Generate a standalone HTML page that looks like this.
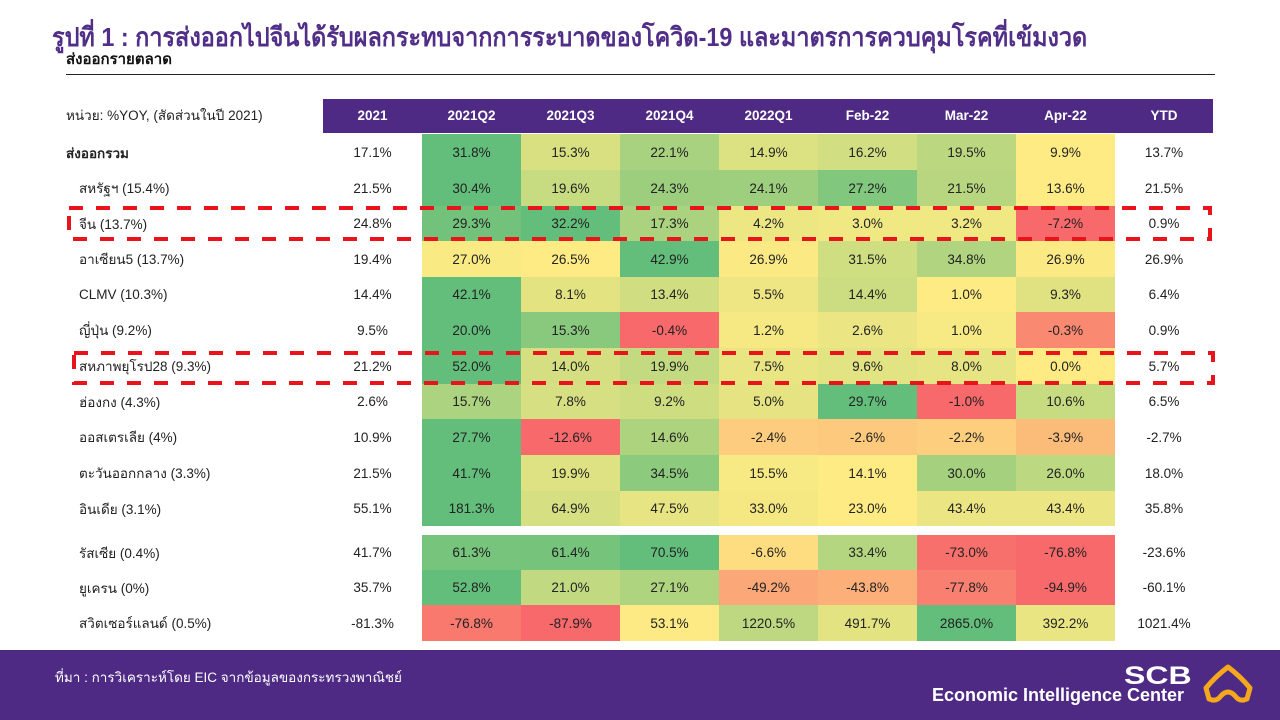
<!DOCTYPE html>
<html>
<head>
<meta charset="utf-8">
<style>
  html,body{margin:0;padding:0;}
  body{width:1280px;height:720px;position:relative;background:#fff;overflow:hidden;
       font-family:"Liberation Sans","DejaVu Sans",sans-serif;color:#222;}
  .abs{position:absolute;}
  .title{left:52px;top:20px;font-size:26px;font-weight:bold;color:#512E88;white-space:nowrap;line-height:34px;transform:scaleX(0.9);transform-origin:0 0;}
  .sub{left:66px;top:50px;font-size:15px;font-weight:bold;color:#111;white-space:nowrap;line-height:20px;}
  .hline{left:66px;top:74px;width:1149px;height:1px;background:#222;}
  .unit{left:66px;top:107px;font-size:13.5px;color:#222;white-space:nowrap;line-height:18px;}
  .hdr{left:323px;top:99px;width:890px;height:34px;background:#4E2A84;}
  .hc{position:absolute;top:0;height:34px;line-height:34px;text-align:center;color:#fff;font-weight:bold;font-size:13.5px;}
  .row{position:absolute;left:0;width:1280px;}
  .c{position:absolute;top:0;height:100%;text-align:center;font-size:13.5px;color:#222;display:flex;align-items:center;justify-content:center;}
  .lab{position:absolute;top:0;height:100%;left:79px;font-size:13.5px;color:#222;display:flex;align-items:center;white-space:nowrap;}
  .footer{left:0;top:650px;width:1280px;height:70px;background:#4E2A84;}
  .src{left:55px;top:669px;font-size:13.5px;color:#fff;white-space:nowrap;line-height:18px;}
  .scb{left:1124px;top:661px;font-size:25px;font-weight:bold;color:#fff;line-height:30px;transform:scaleX(1.28);transform-origin:0 0;}
  .eic{left:932px;top:685px;font-size:18px;font-weight:bold;color:#fff;line-height:20px;white-space:nowrap;}
</style>
</head>
<body>

<div class="abs title">รูปที่ 1 : การส่งออกไปจีนได้รับผลกระทบจากการระบาดของโควิด-19 และมาตรการควบคุมโรคที่เข้มงวด</div>
<div class="abs sub">ส่งออกรายตลาด</div>
<div class="abs hline"></div>

<div class="abs unit">หน่วย: %YOY, (สัดส่วนในปี 2021)</div>
<div class="abs hdr">
  <div class="hc" style="left:0;width:99px;">2021</div>
  <div class="hc" style="left:99px;width:99px;">2021Q2</div>
  <div class="hc" style="left:198px;width:99px;">2021Q3</div>
  <div class="hc" style="left:297px;width:99px;">2021Q4</div>
  <div class="hc" style="left:396px;width:99px;">2022Q1</div>
  <div class="hc" style="left:495px;width:99px;">Feb-22</div>
  <div class="hc" style="left:594px;width:99px;">Mar-22</div>
  <div class="hc" style="left:693px;width:99px;">Apr-22</div>
  <div class="hc" style="left:792px;width:98px;">YTD</div>
</div>

<!-- Row 1 -->
<div class="row" style="top:134px;height:36px;">
  <div class="lab" style="left:66px;font-weight:bold;align-items:flex-start;padding-top:8px;height:auto;">ส่งออกรวม</div>
  <div class="c" style="left:323px;width:99px;">17.1%</div>
  <div class="c" style="left:422px;width:99px;background:#63BE7B;">31.8%</div>
  <div class="c" style="left:521px;width:99px;background:#D8E082;">15.3%</div>
  <div class="c" style="left:620px;width:99px;background:#A8D27F;">22.1%</div>
  <div class="c" style="left:719px;width:99px;background:#DCE182;">14.9%</div>
  <div class="c" style="left:818px;width:99px;background:#D2DE82;">16.2%</div>
  <div class="c" style="left:917px;width:99px;background:#BBD780;">19.5%</div>
  <div class="c" style="left:1016px;width:99px;background:#FFEB84;">9.9%</div>
  <div class="c" style="left:1115px;width:98px;">13.7%</div>
</div>
<!-- Row 2 -->
<div class="row" style="top:170px;height:36px;">
  <div class="lab">สหรัฐฯ (15.4%)</div>
  <div class="c" style="left:323px;width:99px;">21.5%</div>
  <div class="c" style="left:422px;width:99px;background:#63BE7B;">30.4%</div>
  <div class="c" style="left:521px;width:99px;background:#C7DB81;">19.6%</div>
  <div class="c" style="left:620px;width:99px;background:#9CCE7E;">24.3%</div>
  <div class="c" style="left:719px;width:99px;background:#9ECF7E;">24.1%</div>
  <div class="c" style="left:818px;width:99px;background:#81C77D;">27.2%</div>
  <div class="c" style="left:917px;width:99px;background:#B8D680;">21.5%</div>
  <div class="c" style="left:1016px;width:99px;background:#FFEB84;">13.6%</div>
  <div class="c" style="left:1115px;width:98px;">21.5%</div>
</div>
<!-- Row 3 China -->
<div class="row" style="top:206px;height:35px;">
  <div class="lab">จีน (13.7%)</div>
  <div class="c" style="left:323px;width:99px;">24.8%</div>
  <div class="c" style="left:422px;width:99px;background:#72C27C;">29.3%</div>
  <div class="c" style="left:521px;width:99px;background:#63BE7B;">32.2%</div>
  <div class="c" style="left:620px;width:99px;background:#ABD37F;">17.3%</div>
  <div class="c" style="left:719px;width:99px;background:#ECE783;">4.2%</div>
  <div class="c" style="left:818px;width:99px;background:#F0E883;">3.0%</div>
  <div class="c" style="left:917px;width:99px;background:#F0E883;">3.2%</div>
  <div class="c" style="left:1016px;width:99px;background:#F8696B;">-7.2%</div>
  <div class="c" style="left:1115px;width:98px;">0.9%</div>
</div>
<!-- Row 4 ASEAN5 -->
<div class="row" style="top:241px;height:36px;">
  <div class="lab">อาเซียน5 (13.7%)</div>
  <div class="c" style="left:323px;width:99px;">19.4%</div>
  <div class="c" style="left:422px;width:99px;background:#FAEA84;">27.0%</div>
  <div class="c" style="left:521px;width:99px;background:#FFEB84;">26.5%</div>
  <div class="c" style="left:620px;width:99px;background:#63BE7B;">42.9%</div>
  <div class="c" style="left:719px;width:99px;background:#FBEA84;">26.9%</div>
  <div class="c" style="left:818px;width:99px;background:#D0DE82;">31.5%</div>
  <div class="c" style="left:917px;width:99px;background:#B0D480;">34.8%</div>
  <div class="c" style="left:1016px;width:99px;background:#FBEA84;">26.9%</div>
  <div class="c" style="left:1115px;width:98px;">26.9%</div>
</div>
<!-- Row 5 CLMV -->
<div class="row" style="top:277px;height:35px;">
  <div class="lab">CLMV (10.3%)</div>
  <div class="c" style="left:323px;width:99px;">14.4%</div>
  <div class="c" style="left:422px;width:99px;background:#63BE7B;">42.1%</div>
  <div class="c" style="left:521px;width:99px;background:#E4E382;">8.1%</div>
  <div class="c" style="left:620px;width:99px;background:#D0DD81;">13.4%</div>
  <div class="c" style="left:719px;width:99px;background:#EEE683;">5.5%</div>
  <div class="c" style="left:818px;width:99px;background:#CCDC81;">14.4%</div>
  <div class="c" style="left:917px;width:99px;background:#FFEB84;">1.0%</div>
  <div class="c" style="left:1016px;width:99px;background:#E0E282;">9.3%</div>
  <div class="c" style="left:1115px;width:98px;">6.4%</div>
</div>
<!-- Row 6 Japan -->
<div class="row" style="top:312px;height:36px;">
  <div class="lab">ญี่ปุ่น (9.2%)</div>
  <div class="c" style="left:323px;width:99px;">9.5%</div>
  <div class="c" style="left:422px;width:99px;background:#63BE7B;">20.0%</div>
  <div class="c" style="left:521px;width:99px;background:#88C97D;">15.3%</div>
  <div class="c" style="left:620px;width:99px;background:#F8696B;">-0.4%</div>
  <div class="c" style="left:719px;width:99px;background:#F6E883;">1.2%</div>
  <div class="c" style="left:818px;width:99px;background:#EBE583;">2.6%</div>
  <div class="c" style="left:917px;width:99px;background:#F7E984;">1.0%</div>
  <div class="c" style="left:1016px;width:99px;background:#FA8971;">-0.3%</div>
  <div class="c" style="left:1115px;width:98px;">0.9%</div>
</div>
<!-- Row 7 EU -->
<div class="row" style="top:348px;height:36px;">
  <div class="lab">สหภาพยุโรป28 (9.3%)</div>
  <div class="c" style="left:323px;width:99px;">21.2%</div>
  <div class="c" style="left:422px;width:99px;background:#63BE7B;">52.0%</div>
  <div class="c" style="left:521px;width:99px;background:#D5DF82;">14.0%</div>
  <div class="c" style="left:620px;width:99px;background:#C3DA81;">19.9%</div>
  <div class="c" style="left:719px;width:99px;background:#E9E583;">7.5%</div>
  <div class="c" style="left:818px;width:99px;background:#E2E382;">9.6%</div>
  <div class="c" style="left:917px;width:99px;background:#E7E483;">8.0%</div>
  <div class="c" style="left:1016px;width:99px;background:#FFEB84;">0.0%</div>
  <div class="c" style="left:1115px;width:98px;">5.7%</div>
</div>
<!-- Row 8 HK -->
<div class="row" style="top:384px;height:35px;">
  <div class="lab">ฮ่องกง (4.3%)</div>
  <div class="c" style="left:323px;width:99px;">2.6%</div>
  <div class="c" style="left:422px;width:99px;background:#ACD37F;">15.7%</div>
  <div class="c" style="left:521px;width:99px;background:#D6DF82;">7.8%</div>
  <div class="c" style="left:620px;width:99px;background:#CFDD81;">9.2%</div>
  <div class="c" style="left:719px;width:99px;background:#E5E382;">5.0%</div>
  <div class="c" style="left:818px;width:99px;background:#63BE7B;">29.7%</div>
  <div class="c" style="left:917px;width:99px;background:#F8696B;">-1.0%</div>
  <div class="c" style="left:1016px;width:99px;background:#C7DB81;">10.6%</div>
  <div class="c" style="left:1115px;width:98px;">6.5%</div>
</div>
<!-- Row 9 Australia -->
<div class="row" style="top:419px;height:36px;">
  <div class="lab">ออสเตรเลีย (4%)</div>
  <div class="c" style="left:323px;width:99px;">10.9%</div>
  <div class="c" style="left:422px;width:99px;background:#63BE7B;">27.7%</div>
  <div class="c" style="left:521px;width:99px;background:#F8696B;">-12.6%</div>
  <div class="c" style="left:620px;width:99px;background:#ADD37F;">14.6%</div>
  <div class="c" style="left:719px;width:99px;background:#FDCC7E;">-2.4%</div>
  <div class="c" style="left:818px;width:99px;background:#FDCA7D;">-2.6%</div>
  <div class="c" style="left:917px;width:99px;background:#FDCE7E;">-2.2%</div>
  <div class="c" style="left:1016px;width:99px;background:#FBBC7A;">-3.9%</div>
  <div class="c" style="left:1115px;width:98px;">-2.7%</div>
</div>
<!-- Row 10 Middle East -->
<div class="row" style="top:455px;height:36px;">
  <div class="lab">ตะวันออกกลาง (3.3%)</div>
  <div class="c" style="left:323px;width:99px;">21.5%</div>
  <div class="c" style="left:422px;width:99px;background:#63BE7B;">41.7%</div>
  <div class="c" style="left:521px;width:99px;background:#DEE282;">19.9%</div>
  <div class="c" style="left:620px;width:99px;background:#8CCA7D;">34.5%</div>
  <div class="c" style="left:719px;width:99px;background:#F7E984;">15.5%</div>
  <div class="c" style="left:818px;width:99px;background:#FFEB84;">14.1%</div>
  <div class="c" style="left:917px;width:99px;background:#A5D17F;">30.0%</div>
  <div class="c" style="left:1016px;width:99px;background:#BCD880;">26.0%</div>
  <div class="c" style="left:1115px;width:98px;">18.0%</div>
</div>
<!-- Row 11 India -->
<div class="row" style="top:491px;height:35px;">
  <div class="lab">อินเดีย (3.1%)</div>
  <div class="c" style="left:323px;width:99px;">55.1%</div>
  <div class="c" style="left:422px;width:99px;background:#63BE7B;">181.3%</div>
  <div class="c" style="left:521px;width:99px;background:#D6DF82;">64.9%</div>
  <div class="c" style="left:620px;width:99px;background:#E7E483;">47.5%</div>
  <div class="c" style="left:719px;width:99px;background:#F5E883;">33.0%</div>
  <div class="c" style="left:818px;width:99px;background:#FFEB84;">23.0%</div>
  <div class="c" style="left:917px;width:99px;background:#EBE583;">43.4%</div>
  <div class="c" style="left:1016px;width:99px;background:#EBE583;">43.4%</div>
  <div class="c" style="left:1115px;width:98px;">35.8%</div>
</div>

<!-- Block 2 -->
<div class="row" style="top:535px;height:35px;">
  <div class="lab">รัสเซีย (0.4%)</div>
  <div class="c" style="left:323px;width:99px;">41.7%</div>
  <div class="c" style="left:422px;width:99px;background:#77C47C;">61.3%</div>
  <div class="c" style="left:521px;width:99px;background:#76C47C;">61.4%</div>
  <div class="c" style="left:620px;width:99px;background:#63BE7B;">70.5%</div>
  <div class="c" style="left:719px;width:99px;background:#FEDD81;">-6.6%</div>
  <div class="c" style="left:818px;width:99px;background:#B5D680;">33.4%</div>
  <div class="c" style="left:917px;width:99px;background:#F8706C;">-73.0%</div>
  <div class="c" style="left:1016px;width:99px;background:#F8696B;">-76.8%</div>
  <div class="c" style="left:1115px;width:98px;">-23.6%</div>
</div>
<div class="row" style="top:570px;height:35px;">
  <div class="lab">ยูเครน (0%)</div>
  <div class="c" style="left:323px;width:99px;">35.7%</div>
  <div class="c" style="left:422px;width:99px;background:#63BE7B;">52.8%</div>
  <div class="c" style="left:521px;width:99px;background:#C1D980;">21.0%</div>
  <div class="c" style="left:620px;width:99px;background:#AFD47F;">27.1%</div>
  <div class="c" style="left:719px;width:99px;background:#FBA777;">-49.2%</div>
  <div class="c" style="left:818px;width:99px;background:#FCAF79;">-43.8%</div>
  <div class="c" style="left:917px;width:99px;background:#F98070;">-77.8%</div>
  <div class="c" style="left:1016px;width:99px;background:#F8696B;">-94.9%</div>
  <div class="c" style="left:1115px;width:98px;">-60.1%</div>
</div>
<div class="row" style="top:605px;height:36px;">
  <div class="lab">สวิตเซอร์แลนด์ (0.5%)</div>
  <div class="c" style="left:323px;width:99px;">-81.3%</div>
  <div class="c" style="left:422px;width:99px;background:#F9796E;">-76.8%</div>
  <div class="c" style="left:521px;width:99px;background:#F8696B;">-87.9%</div>
  <div class="c" style="left:620px;width:99px;background:#FDEA84;">53.1%</div>
  <div class="c" style="left:719px;width:99px;background:#BDD880;">1220.5%</div>
  <div class="c" style="left:818px;width:99px;background:#E4E382;">491.7%</div>
  <div class="c" style="left:917px;width:99px;background:#63BE7B;">2865.0%</div>
  <div class="c" style="left:1016px;width:99px;background:#EAE583;">392.2%</div>
  <div class="c" style="left:1115px;width:98px;">1021.4%</div>
</div>

<!-- Red dashed highlight boxes -->
<svg class="abs" style="left:0;top:0;" width="1280" height="720">
  <rect x="69" y="208" width="1141" height="31" fill="none" stroke="#E8131B" stroke-width="4" stroke-dasharray="14 13"/>
  <rect x="74" y="353" width="1139" height="30" fill="none" stroke="#E8131B" stroke-width="4" stroke-dasharray="14 13"/>
</svg>

<!-- Footer -->
<div class="abs footer"></div>
<div class="abs src">ที่มา : การวิเคราะห์โดย EIC จากข้อมูลของกระทรวงพาณิชย์</div>
<div class="abs scb">SCB</div>
<div class="abs eic">Economic Intelligence Center</div>
<svg class="abs" style="left:0;top:0;" width="1280" height="720">
  <path d="M1209,699 L1206,688 Q1216,676 1228,667 Q1240,676 1250,688 L1247,699 Q1240,702 1236,697 Q1228,687 1220,697 Q1216,702 1209,699 Z"
        fill="none" stroke="#F5A81C" stroke-width="5" stroke-linejoin="round"/>
</svg>

</body>
</html>
